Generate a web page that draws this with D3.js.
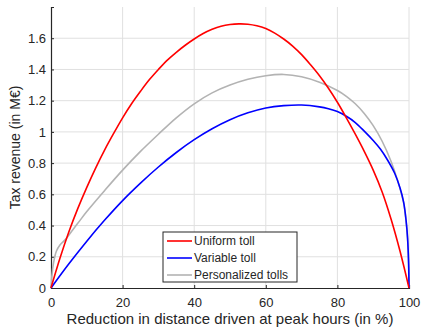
<!DOCTYPE html>
<html>
<head>
<meta charset="utf-8">
<script src="https://cdn.jsdelivr.net/npm/d3@7"></script>
<style>
  body { margin: 0; background: #fff; }
  text { font-family: "Liberation Sans", Arial, sans-serif; fill: #262626; }
</style>
</head>
<body>
<svg id="chart"></svg>
<script>
// Uniform toll
const uniformX = [0, 2.5, 5, 7.5, 10, 12.5, 15, 17.5, 20, 22.5, 25, 27.5, 30, 32.5, 35, 37.5, 40, 42.5, 45, 47.5, 50, 52.5, 55, 57.5, 60, 62.5, 65, 67.5, 70, 72.5, 75, 77.5, 80, 82.5, 85, 87.5, 90, 92.5, 95, 97.5, 100];
const uniformY = [0, 0.19, 0.36, 0.51, 0.645, 0.77, 0.885, 0.99, 1.09, 1.18, 1.26, 1.335, 1.40, 1.46, 1.51, 1.555, 1.595, 1.63, 1.657, 1.677, 1.688, 1.692, 1.69, 1.68, 1.662, 1.633, 1.595, 1.55, 1.495, 1.43, 1.36, 1.28, 1.19, 1.09, 0.985, 0.875, 0.755, 0.615, 0.44, 0.235, 0];

// Variable toll
const variableX = [0, 5, 10, 15, 20, 25, 30, 35, 40, 45, 50, 55, 60, 65, 70, 75, 77.5, 80, 82.5, 85, 87.5, 90, 92, 94, 96, 97.5, 98.5, 99.2, 99.6, 99.9, 100];
const variableY = [0, 0.155, 0.30, 0.435, 0.56, 0.672, 0.775, 0.868, 0.95, 1.02, 1.078, 1.122, 1.153, 1.168, 1.172, 1.16, 1.148, 1.13, 1.1, 1.06, 1.005, 0.945, 0.89, 0.82, 0.735, 0.64, 0.55, 0.43, 0.32, 0.15, 0];

// Personalized tolls
const personalX = [0, 0.3, 0.7, 1.5, 2.5, 4, 6, 8, 10, 15, 20, 25, 30, 35, 40, 45, 50, 55, 60, 65, 70, 75, 80, 82.5, 85, 87.5, 90, 92.5, 95, 97, 98.5, 99.3, 99.7, 99.95, 100];
const personalY = [0, 0.09, 0.16, 0.235, 0.275, 0.31, 0.37, 0.43, 0.49, 0.625, 0.755, 0.875, 0.985, 1.09, 1.18, 1.25, 1.30, 1.337, 1.36, 1.368, 1.353, 1.318, 1.265, 1.228, 1.18, 1.118, 1.04, 0.94, 0.81, 0.675, 0.545, 0.40, 0.28, 0.12, 0];

const seriesNames = ["Uniform toll", "Variable toll", "Personalized tolls"];
const seriesColors = ["#ff0000", "#0000ff", "#b3b3b3"];

const xTicks = [0, 20, 40, 60, 80, 100];
const yTicks = [0, 0.2, 0.4, 0.6, 0.8, 1, 1.2, 1.4, 1.6];

const width = 422;
const height = 328;
const margin = { top: 7, right: 13, bottom: 40, left: 51 };

const svg = d3.select("#chart")
    .attr("width", width)
    .attr("height", height);

const x = d3.scaleLinear().domain([0, 100]).range([margin.left, width - margin.right]);
const y = d3.scaleLinear().domain([0, 1.8]).range([height - margin.bottom, margin.top]);

// grid
svg.append("g")
    .selectAll("line")
    .data(xTicks.slice(1))
    .enter()
    .append("line")
    .attr("x1", d => x(d)).attr("x2", d => x(d))
    .attr("y1", y(0)).attr("y2", margin.top)
    .attr("stroke", "#e0e0e0").attr("stroke-width", 1);

svg.append("g")
    .selectAll("line")
    .data(yTicks.slice(1))
    .enter()
    .append("line")
    .attr("x1", x(0)).attr("x2", x(100))
    .attr("y1", d => y(d)).attr("y2", d => y(d))
    .attr("stroke", "#e0e0e0").attr("stroke-width", 1);

// axes (ticks pointing inward)
const xAxis = svg.append("g")
    .attr("transform", `translate(0,${y(0)})`)
    .call(d3.axisBottom(x).tickValues(xTicks).tickSize(-3).tickPadding(10).tickFormat(d3.format("d")));
const yAxis = svg.append("g")
    .attr("transform", `translate(${x(0)},0)`)
    .call(d3.axisLeft(y).tickValues(yTicks).tickSize(-3).tickPadding(5).tickFormat(d => d === 0 || d === 1 ? d : d3.format(".1f")(d)));

[xAxis, yAxis].forEach(a => {
    a.select(".domain").attr("stroke", "#262626").attr("stroke-width", 1.2);
    a.selectAll(".tick line").attr("stroke", "#262626");
    a.selectAll(".tick text").style("font-size", "13px").attr("fill", "#262626");
});

// axis titles
svg.append("text")
    .attr("x", (x(0) + x(100)) / 2)
    .attr("y", 324)
    .attr("text-anchor", "middle")
    .style("font-size", "15px")
    .text("Reduction in distance driven at peak hours (in %)");

svg.append("text")
    .attr("transform", `translate(20,${(y(0) + y(1.8)) / 2}) rotate(-90)`)
    .attr("text-anchor", "middle")
    .style("font-size", "14px")
    .text("Tax revenue (in M€)");

// curves
const line = d3.line()
    .x(d => x(d[0]))
    .y(d => y(d[1]))
    .curve(d3.curveCatmullRom.alpha(0.5));

const series = [
    d3.zip(uniformX, uniformY),
    d3.zip(variableX, variableY),
    d3.zip(personalX, personalY)
];

[2, 1, 0].forEach(i => {
    svg.append("path")
        .datum(series[i])
        .attr("d", line)
        .attr("fill", "none")
        .attr("stroke", seriesColors[i])
        .attr("stroke-width", 1.6);
});

// legend
const legend = svg.append("g").attr("transform", "translate(163,232)");
legend.append("rect")
    .attr("width", 134).attr("height", 50)
    .attr("fill", "#fff").attr("stroke", "#262626").attr("stroke-width", 1);

const items = legend.selectAll(".item")
    .data(seriesNames)
    .enter()
    .append("g")
    .attr("transform", (d, i) => `translate(0,${9 + i * 17})`);

items.append("line")
    .attr("x1", 4).attr("x2", 29)
    .attr("stroke", (d, i) => seriesColors[i])
    .attr("stroke-width", 1.6);

items.append("text")
    .attr("x", 31)
    .attr("dy", "0.35em")
    .style("font-size", "12px")
    .text(d => d);
</script>
</body>
</html>
